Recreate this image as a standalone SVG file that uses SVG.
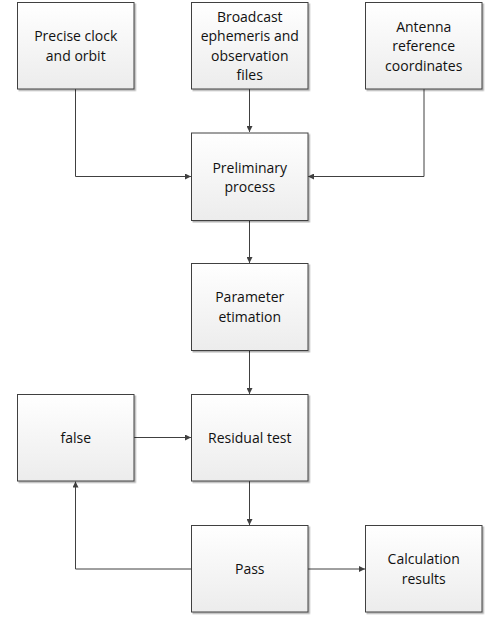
<svg xmlns="http://www.w3.org/2000/svg" width="489" height="617" viewBox="0 0 489 617">
<defs>
<linearGradient id="g" x1="0" y1="0" x2="0" y2="1">
<stop offset="0" stop-color="#ffffff"/>
<stop offset="1" stop-color="#ececec"/>
</linearGradient>
<marker id="a" markerWidth="7" markerHeight="6" refX="6" refY="3" orient="auto" markerUnits="userSpaceOnUse">
<path d="M0,0 L6,3 L0,6 Z" fill="#404040"/>
</marker>
<filter id="s" x="-10%" y="-10%" width="120%" height="120%">
<feDropShadow dx="1.5" dy="1.5" stdDeviation="0.6" flood-color="#000" flood-opacity="0.3"/>
</filter>
</defs>
<style>
.box{fill:url(#g);stroke:#404040;stroke-width:1;filter:url(#s)}
.t{font-family:"Open Sans","Liberation Sans",sans-serif;font-size:14px;fill:#111;text-anchor:middle}
.c{fill:none;stroke:#404040;stroke-width:1;marker-end:url(#a)}
</style>
<g id="connectors">
<path class="c" d="M75.5,89 V176.5 H191"/>
<path class="c" d="M249.5,89 V132"/>
<path class="c" d="M424,89 V176.5 H308"/>
<path class="c" d="M249.5,220.5 V263"/>
<path class="c" d="M249.5,350.5 V394"/>
<path class="c" d="M134,437.5 H191"/>
<path class="c" d="M249.5,481 V525"/>
<path class="c" d="M191.5,569 H75.5 V481.5"/>
<path class="c" d="M308,569 H365"/>
</g>
<g id="n1"><rect class="box" x="17.5" y="2.5" width="116.5" height="86.5"/>
<text class="t" x="75.75" y="41">Precise clock</text><text class="t" x="75.75" y="60.5">and orbit</text></g>
<g id="n2"><rect class="box" x="191.5" y="2.5" width="116.5" height="86.5"/>
<text class="t" x="249.75" y="21.5">Broadcast</text><text class="t" x="249.75" y="41">ephemeris and</text><text class="t" x="249.75" y="60.5">observation</text><text class="t" x="249.75" y="80">files</text></g>
<g id="n3"><rect class="box" x="365.5" y="2.5" width="116.5" height="86.5"/>
<text class="t" x="423.75" y="31.5">Antenna</text><text class="t" x="423.75" y="51">reference</text><text class="t" x="423.75" y="70.5">coordinates</text></g>
<g id="n4"><rect class="box" x="191.5" y="133" width="116.5" height="87.5"/>
<text class="t" x="249.75" y="173">Preliminary</text><text class="t" x="249.75" y="192">process</text></g>
<g id="n5"><rect class="box" x="191.5" y="263.5" width="116.5" height="87"/>
<text class="t" x="249.75" y="302">Parameter</text><text class="t" x="249.75" y="322">etimation</text></g>
<g id="n6"><rect class="box" x="17.5" y="394.5" width="116.5" height="86.5"/>
<text class="t" x="75.75" y="442.5">false</text></g>
<g id="n7"><rect class="box" x="191.5" y="394.5" width="116.5" height="86.5"/>
<text class="t" x="249.75" y="442.5">Residual test</text></g>
<g id="n8"><rect class="box" x="191.5" y="525.5" width="116.5" height="86.5"/>
<text class="t" x="249.75" y="574">Pass</text></g>
<g id="n9"><rect class="box" x="365.5" y="525.5" width="116.5" height="86.5"/>
<text class="t" x="423.75" y="564">Calculation</text><text class="t" x="423.75" y="584">results</text></g>
</svg>
